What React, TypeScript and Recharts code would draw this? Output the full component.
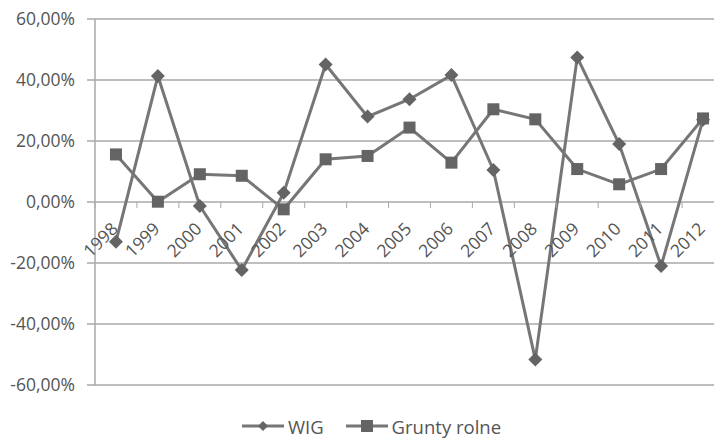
import React from 'react'
import { CartesianGrid, Legend, Line, LineChart, XAxis, YAxis } from 'recharts'

const years = ['1998', '1999', '2000', '2001', '2002', '2003', '2004', '2005', '2006', '2007', '2008', '2009', '2010', '2011', '2012']
const wig = [-13.0, 41.3, -1.3, -22.3, 3.0, 45.1, 28.0, 33.7, 41.6, 10.5, -51.6, 47.4, 19.0, -21.0, 27.0]
const grunty = [15.6, 0.1, 9.1, 8.6, -2.4, 14.0, 15.1, 24.4, 12.9, 30.4, 27.1, 10.8, 5.8, 10.8, 27.4]
const yTicks = [-60, -40, -20, 0, 20, 40, 60]

const data = years.map((year, i) => ({ year, wig: wig[i], grunty: grunty[i] }))

const W = 730
const H = 439
const TOP = 19
const LEFT = 95
const RIGHT = 6
const PLOT_H = 366
const PLOT_W = W - LEFT - RIGHT
const BAND = PLOT_W / years.length
const ZERO_Y = TOP + PLOT_H / 2
const LEGEND_H = 26

const FONT = '"Open Sans", sans-serif'
const TEXT = '#555555'
const GRID = '#a9a9a9'
const LINE = '#767676'
const MARK = '#646464'

const fmt = (v: number) => `${v.toFixed(2).replace('.', ',')}%`

const Diamond = (props: any) => {
  const { cx, cy, index } = props
  if (cx == null || cy == null) return null
  const r = 7
  return <path key={`d${index}`} d={`M${cx},${cy - r}L${cx + r},${cy}L${cx},${cy + r}L${cx - r},${cy}Z`} fill={MARK} />
}

const Square = (props: any) => {
  const { cx, cy, index } = props
  if (cx == null || cy == null) return null
  const s = 12
  return <rect key={`s${index}`} x={cx - s / 2} y={cy - s / 2} width={s} height={s} fill={MARK} />
}

const YearTick = (props: any) => {
  const { x, payload, index } = props
  const bx = x + 3
  const by = ZERO_Y + 28
  return (
    <g>
      <line x1={x - BAND / 2} x2={x - BAND / 2} y1={ZERO_Y} y2={ZERO_Y + 6} stroke={GRID} strokeWidth={1} />
      {index === years.length - 1 && (
        <line x1={x + BAND / 2} x2={x + BAND / 2} y1={ZERO_Y} y2={ZERO_Y + 6} stroke={GRID} strokeWidth={1} />
      )}
      <text
        x={bx}
        y={by}
        textAnchor="end"
        transform={`rotate(-45 ${bx} ${by})`}
        fill={TEXT}
        fontSize={17.5}
        fontFamily={FONT}
      >
        {payload.value}
      </text>
    </g>
  )
}

const LegendContent = () => {
  const items = [
    { label: 'WIG', shape: 'diamond' },
    { label: 'Grunty rolne', shape: 'square' },
  ]
  return (
    <div style={{ display: 'flex', justifyContent: 'center', gap: 21, height: LEGEND_H, alignItems: 'center', fontFamily: FONT, fontSize: 18.5, color: TEXT }}>
      {items.map((it) => (
        <div key={it.label} style={{ display: 'flex', alignItems: 'center' }}>
          <svg width={44} height={14} style={{ marginRight: 3 }}>
            <line x1={1} x2={43} y1={7} y2={7} stroke={LINE} strokeWidth={3} />
            {it.shape === 'diamond' ? (
              <path d="M22,2L27,7L22,12L17,7Z" fill={MARK} />
            ) : (
              <rect x={16} y={1} width={12} height={12} fill={MARK} />
            )}
          </svg>
          <span>{it.label}</span>
        </div>
      ))}
    </div>
  )
}

export default function App() {
  return (
    <div style={{ position: 'fixed', left: 0, top: 0, width: 714, height: 439, overflow: 'hidden', background: '#fff' }}>
      <LineChart width={W} height={H} data={data} margin={{ top: TOP, right: RIGHT, left: 0, bottom: 0 }}>
        <CartesianGrid horizontal vertical={false} stroke={GRID} strokeWidth={1.5} />
        <XAxis
          dataKey="year"
          axisLine={false}
          tickLine={false}
          height={H - TOP - PLOT_H - LEGEND_H}
          tick={<YearTick />}
          interval={0}
          padding={{ left: BAND / 2, right: BAND / 2 }}
        />
        <YAxis
          width={LEFT}
          domain={[-60, 60]}
          ticks={yTicks}
          tickFormatter={fmt}
          axisLine={{ stroke: GRID, strokeWidth: 1.5 }}
          tickLine={{ stroke: GRID, strokeWidth: 1.5 }}
          tickSize={8}
          tickMargin={12}
          tick={{ fill: TEXT, fontSize: 17.5, fontFamily: FONT }}
        />
        <Legend verticalAlign="bottom" content={<LegendContent />} wrapperStyle={{ left: 0, width: 742 }} />
        <Line dataKey="wig" name="WIG" stroke={LINE} strokeWidth={3} dot={Diamond} activeDot={false} isAnimationActive={false} />
        <Line dataKey="grunty" name="Grunty rolne" stroke={LINE} strokeWidth={3} dot={Square} activeDot={false} isAnimationActive={false} />
      </LineChart>
    </div>
  )
}
